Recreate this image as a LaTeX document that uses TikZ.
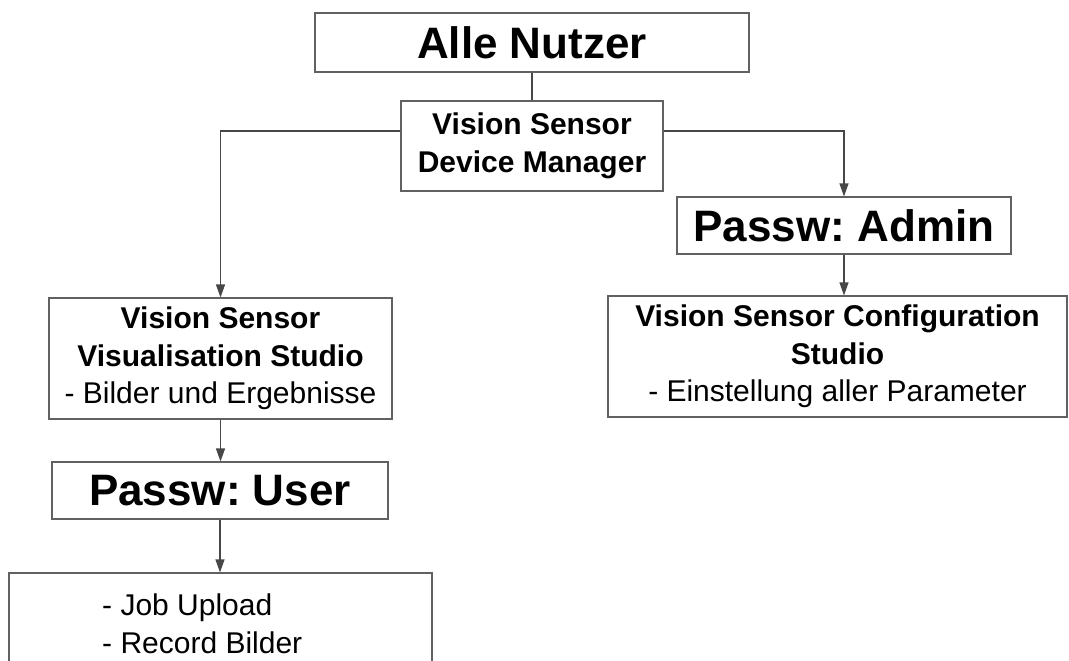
\documentclass[tikz,border=0pt]{standalone}
\usepackage{fontspec}
\setmainfont{Liberation Sans}
\usetikzlibrary{arrows.meta}
\frenchspacing
\tikzset{
  box/.style={draw=black!62, line width=1.1pt, fill=white, inner sep=0pt, align=center},
  bigtxt/.style={font=\fontsize{44}{50}\selectfont\bfseries},
  midtxt/.style={font=\fontsize{30}{37.5}\selectfont},
  conn/.style={draw=black!72, line width=1.1pt},
  arr/.style={conn, -{Triangle[length=13pt,width=9pt]}}
}
\begin{document}
\begin{tikzpicture}[x=1pt,y=-1pt]
\useasboundingbox (0,0) rectangle (1069,661);
\clip (0,0) rectangle (1069,661);
\node[box, bigtxt, minimum width=434pt, minimum height=59pt] (all) at (532,42.5) {Alle Nutzer};
\node[box, midtxt, minimum width=262pt, minimum height=90pt] (dm) at (532,146) {\textbf{Vision Sensor}\\\textbf{Device Manager}};
\node[box, bigtxt, minimum width=334pt, minimum height=57pt] (admin) at (844,225.5) {Passw: Admin};
\node[box, midtxt, minimum width=459pt, minimum height=121pt] (config) at (837.5,356.5) {\textbf{Vision Sensor Configuration}\\\textbf{Studio}\\- Einstellung aller Parameter};
\node[box, midtxt, minimum width=343pt, minimum height=121pt] (vis) at (220.5,358.5) {\textbf{Vision Sensor}\\\textbf{Visualisation Studio}\\- Bilder und Ergebnisse};
\node[box, bigtxt, minimum width=336pt, minimum height=57pt] (user) at (220,490.5) {Passw: User};
\node[box, minimum width=423pt, minimum height=127pt] (bot) at (220.5,636.5) {};
\node[midtxt, align=left, anchor=west, inner sep=0pt] (bottxt) at (102,624) {- Job Upload\\[0.5pt]- Record Bilder};
\draw[conn] (all.south) -- (dm.north);
\draw[arr] ([yshift=15pt]dm.west) -| (vis.north);
\draw[arr] ([yshift=15pt]dm.east) -| (admin.north);
\draw[arr] (admin.south) -- (admin.south |- config.north);
\draw[arr] (vis.south) -- (vis.south |- user.north);
\draw[arr] (user.south) -- (user.south |- bot.north);
\end{tikzpicture}
\end{document}
